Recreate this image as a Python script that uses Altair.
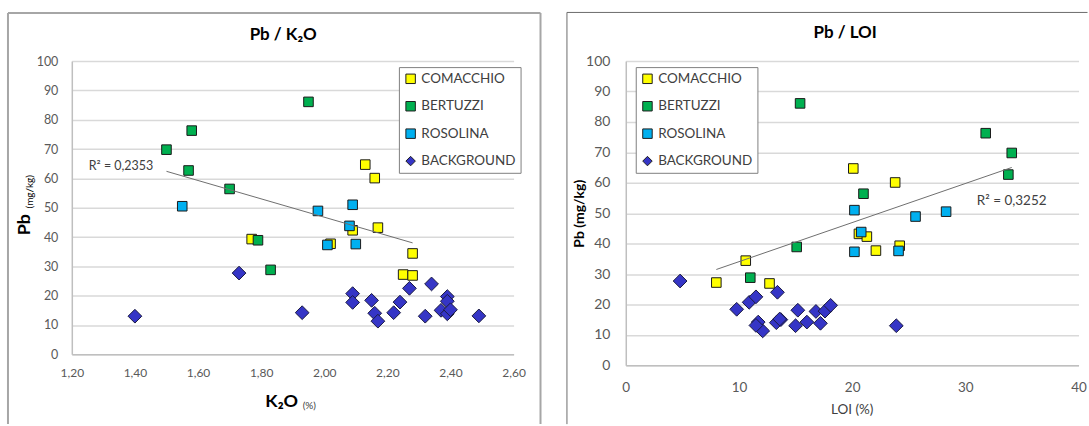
import altair as alt
import pandas as pd

FONT = "Lato, Noto Sans, sans-serif"

SITES = ["COMACCHIO", "BERTUZZI", "ROSOLINA", "BACKGROUND"]
FILLS = ["#FFFF00", "#00B050", "#00B0F0", "#3535C6"]
SHAPES = ["square", "square", "square", "diamond"]

# Pb (mg/kg), K2O (%) and LOI (%) for each sample, by site
com_pb = [64.7, 60.1, 43.2, 42.3, 39.3, 34.4, 27.2, 26.9, 37.7]
com_k2o = [2.13, 2.16, 2.17, 2.09, 1.77, 2.28, 2.25, 2.28, 2.02]
com_loi = [20.1, 23.8, 20.6, 21.3, 24.2, 10.6, 8.0, 12.7, 22.1]

ber_pb = [86.1, 76.3, 69.8, 62.7, 56.4, 38.9, 28.8]
ber_k2o = [1.95, 1.58, 1.50, 1.57, 1.70, 1.79, 1.83]
ber_loi = [15.4, 31.8, 34.1, 33.8, 21.0, 15.1, 11.0]

ros_pb = [50.5, 51.0, 48.9, 43.8, 37.3, 37.6]
ros_k2o = [1.55, 2.09, 1.98, 2.08, 2.01, 2.10]
ros_loi = [28.3, 20.2, 25.6, 20.8, 20.2, 24.1]

bkg_pb = [13.0, 27.7, 14.2, 20.7, 17.7, 18.4, 14.0, 11.3, 14.2, 17.8,
          22.5, 24.0, 13.0, 19.7, 18.1, 15.0, 13.8, 15.2, 13.1]
bkg_k2o = [1.40, 1.73, 1.93, 2.09, 2.09, 2.15, 2.16, 2.17, 2.22, 2.24,
           2.27, 2.34, 2.32, 2.39, 2.39, 2.37, 2.39, 2.40, 2.49]
bkg_loi = [23.9, 4.8, 11.7, 10.9, 16.8, 9.8, 13.3, 12.1, 16.0, 17.6,
           11.5, 13.4, 15.0, 18.1, 15.2, 13.7, 17.2, 13.6, 11.5]

k2o_ticks = [1.2, 1.4, 1.6, 1.8, 2.0, 2.2, 2.4, 2.6]
loi_ticks = [0, 10, 20, 30, 40]
pb_ticks = [0, 10, 20, 30, 40, 50, 60, 70, 80, 90, 100]


def site_frame(site, pb, k2o, loi):
    return pd.DataFrame({"site": site, "pb": pb, "k2o": k2o, "loi": loi})


samples = pd.concat(
    [
        site_frame("COMACCHIO", com_pb, com_k2o, com_loi),
        site_frame("BERTUZZI", ber_pb, ber_k2o, ber_loi),
        site_frame("ROSOLINA", ros_pb, ros_k2o, ros_loi),
        site_frame("BACKGROUND", bkg_pb, bkg_k2o, bkg_loi),
    ],
    ignore_index=True,
)


def text(label, x, y, size, weight="normal", angle=0, color="#000000", align="center"):
    return (
        alt.Chart(pd.DataFrame({"t": [label]}))
        .mark_text(font=FONT, fontSize=size, fontWeight=weight, angle=angle,
                   color=color, align=align, baseline="middle")
        .encode(x=alt.value(x), y=alt.value(y), text="t:N")
    )


def frame_line(x, y, color, width, x2=None, y2=None):
    enc = {"x": alt.value(x), "y": alt.value(y)}
    if x2 is not None:
        enc["x2"] = alt.value(x2)
    if y2 is not None:
        enc["y2"] = alt.value(y2)
    return (
        alt.Chart(pd.DataFrame({"k": [0]}))
        .mark_rule(color=color, strokeWidth=width)
        .encode(**enc)
    )


def legend(x, y):
    return alt.Legend(
        orient="none", legendX=x, legendY=y, direction="vertical",
        padding=5, rowPadding=12.5, strokeColor="#808080", fillColor="white",
        labelFont=FONT, labelFontSize=13.5, labelColor="#404040", labelOffset=4,
        symbolSize=90, symbolStrokeColor="#1e1e1e", symbolStrokeWidth=1,
    )


def panel(xfield, xdomain, xticks, xlabels, leg, lab_size, x_pad, y_pad):
    x_scale = alt.Scale(domain=xdomain, nice=False, zero=False)
    y_scale = alt.Scale(domain=[0, 100], nice=False)
    x_axis = alt.Axis(
        values=xticks, labelExpr=xlabels, title=None, grid=False, ticks=False,
        labelPadding=x_pad, labelFont=FONT, labelFontSize=lab_size[0],
        labelColor="#595959", domainColor="#bfbfbf", domainWidth=1.5,
        labelOverlap=False, labelFlush=False,
    )
    y_axis = alt.Axis(
        values=pb_ticks, title=None, grid=True, gridColor="#d9d9d9", gridWidth=1.5,
        ticks=False, labelPadding=y_pad, labelFont=FONT, labelFontSize=lab_size[1],
        labelColor="#595959", domainColor="#bfbfbf", domainWidth=1.5,
        labelOverlap=False, labelFlush=False,
    )
    x_enc = alt.X(f"{xfield}:Q", scale=x_scale, axis=x_axis)
    y_enc = alt.Y("pb:Q", scale=y_scale, axis=y_axis)
    color_enc = alt.Color("site:N", scale=alt.Scale(domain=SITES, range=FILLS),
                          legend=leg, title=None)
    shape_enc = alt.Shape("site:N", scale=alt.Scale(domain=SITES, range=SHAPES),
                          legend=leg, title=None)
    base = alt.Chart(samples).encode(x=x_enc, y=y_enc, color=color_enc, shape=shape_enc)
    # square markers for the three sites, larger diamonds for background samples
    squares = base.transform_filter(alt.datum.site != "BACKGROUND").mark_point(
        filled=True, opacity=1, size=92, stroke="#1a1a1a", strokeWidth=1)
    diamonds = base.transform_filter(alt.datum.site == "BACKGROUND").mark_point(
        filled=True, opacity=1, size=190, stroke="#1a1a40", strokeWidth=1)
    trend = (
        alt.Chart(samples)
        .transform_filter(alt.datum.site != "BACKGROUND")
        .transform_regression(xfield, "pb")
        .mark_line(color="#6e6e6e", strokeWidth=1)
        .encode(x=x_enc, y=y_enc)
    )
    return trend, squares, diamonds


comma2 = "replace(format(datum.value, '.2f'), '.', ',')"

# Left panel: Pb against K2O
lw, lh = 443, 294
l_trend, l_sq, l_di = panel("k2o", [1.2, 2.6], k2o_ticks, comma2,
                            legend(328, 6), (12, 12.5), 13, 14)
left = alt.layer(
    frame_line(-64, -48.3, "#a6a6a6", 2, x2=470),
    frame_line(-64, -48.3, "#a6a6a6", 2, y2=364),
    frame_line(470, -48.3, "#a6a6a6", 2, y2=364),
    l_sq,
    l_di,
    l_trend,
    text("Pb / K₂O", 212, -26, 17, weight="bold"),
    text("Pb", -47, 164, 18, weight="bold", angle=270),
    text("(mg/kg)", -42, 131, 10, angle=270),
    text("K₂O", 210.5, 341.5, 18, weight="bold"),
    text("(%)", 231.5, 346, 10, align="left", color="#404040"),
    text("R² = 0,2353", 17, 105, 12.5, align="left", color="#404040"),
).properties(width=lw, height=lh)

# Right panel: Pb against LOI
rw, rh = 454, 305
r_trend, r_sq, r_di = panel("loi", [0, 40], loi_ticks, "format(datum.value, 'd')",
                            legend(10, 6), (13.5, 14), 15, 16)
right = alt.layer(
    frame_line(-59, -48.8, "#6b6b6b", 1, x2=463),
    frame_line(-59, -48.8, "#6b6b6b", 1, y2=364),
    r_sq,
    r_di,
    r_trend,
    text("Pb / LOI", 220, -28, 17, weight="bold"),
    text("Pb (mg/kg)", -46, 153, 14, weight="bold", angle=270),
    text("LOI (%)", 227, 350, 13.5, color="#404040"),
    text("R² = 0,3252", 352, 140, 13.5, align="left", color="#404040"),
).properties(width=rw, height=rh)

chart = (
    alt.hconcat(left, right, spacing=23.5)
    .resolve_scale(color="independent", shape="independent")
    .resolve_legend(color="independent", shape="independent")
    .properties(padding={"left": 6, "top": 10.7, "right": 0, "bottom": 0},
                background="white")
    .configure_view(stroke="transparent")
)

chart.save("out.html", embed_options={"renderer": "svg", "actions": False})
